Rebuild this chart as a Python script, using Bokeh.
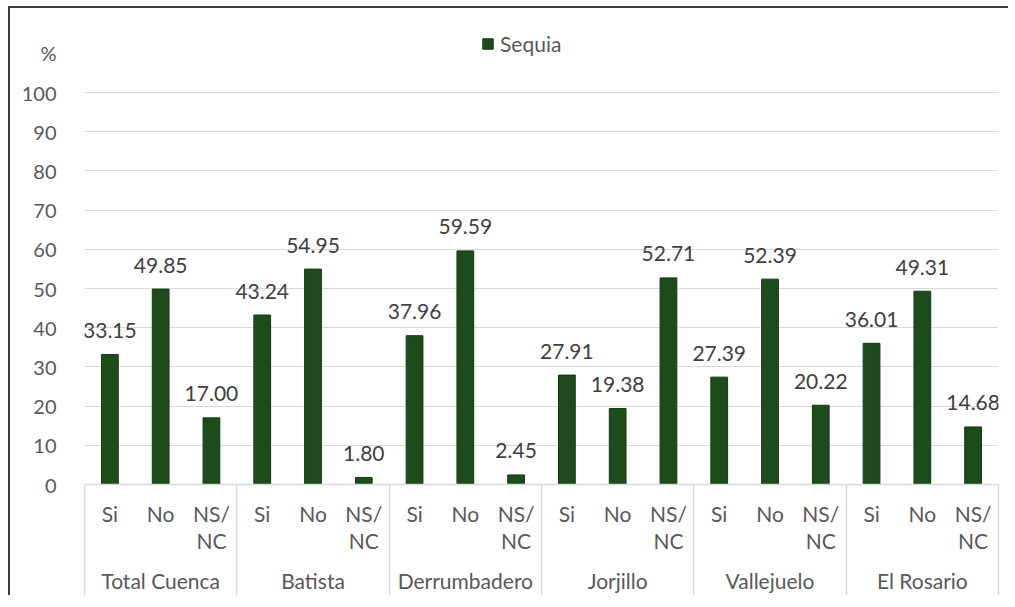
from bokeh.plotting import figure
from bokeh.models import (ColumnDataSource, LabelSet, FixedTicker, LinearAxis,
                          Legend, LegendItem, Range1d)
from bokeh.embed import file_html
from bokeh.resources import INLINE
from bokeh.core.properties import value

# ---- data ----
groups = ["Total Cuenca", "Batista", "Derrumbadero", "Jorjillo", "Vallejuelo", "El Rosario"]
answers = ["Si", "No", "NS/\nNC"]
sequia = [33.15, 49.85, 17.00,
          43.24, 54.95, 1.80,
          37.96, 59.59, 2.45,
          27.91, 19.38, 52.71,
          27.39, 52.39, 20.22,
          36.01, 49.31, 14.68]
y_ticks = [0, 10, 20, 30, 40, 50, 60, 70, 80, 90, 100]
unit_label = "%"
series_name = "Sequia"

FONT = "Lato"
TXT = "#595959"
BAR = "#1d4b1b"
GRID = "#d9d9d9"

n_ans = len(answers)
xs = [g * n_ans + a + 0.5 for g in range(len(groups)) for a in range(n_ans)]
group_centers = [g * n_ans + n_ans / 2 for g in range(len(groups))]
group_edges = [g * n_ans for g in range(len(groups) + 1)]
src = ColumnDataSource(dict(x=xs, y=sequia, lab=["%.2f" % v for v in sequia]))

Y_TOP = 116.33
UNIT_Y = 110.2

p = figure(frame_width=914, frame_height=456, output_backend="svg",
           toolbar_location=None, x_range=Range1d(0, len(groups) * n_ans),
           y_range=Range1d(0, Y_TOP), min_border_left=74, min_border_right=10,
           min_border_top=20, min_border_bottom=0)
p.outline_line_color = None
p.background_fill_color = "white"
p.border_fill_color = "white"
p.styles = {"margin-left": "8px", "margin-top": "6px",
            "border-left": "2px solid #3a3a3a", "border-top": "2px solid #3a3a3a"}

r = p.vbar(x="x", top="y", width=0.33, source=src, fill_color=BAR,
           line_color="#143a14", line_width=1)

# y axis (with unit label as top tick)
p.yaxis.ticker = FixedTicker(ticks=y_ticks + [UNIT_Y])
p.yaxis.major_label_overrides = {UNIT_Y: unit_label}
p.yaxis.axis_line_color = None
p.yaxis.major_tick_line_color = None
p.yaxis.minor_tick_line_color = None
p.yaxis.major_label_standoff = 22
p.yaxis.major_label_text_font = FONT
p.yaxis.major_label_text_font_size = "20px"
p.yaxis.major_label_text_color = TXT
p.ygrid.ticker = FixedTicker(ticks=y_ticks)
p.ygrid.grid_line_color = GRID
p.xgrid.grid_line_color = None

# x axis: answer labels, group separators drawn as long minor ticks
SEP_LEN = 117
p.xaxis.ticker = FixedTicker(ticks=xs, minor_ticks=group_edges)
p.xaxis.major_label_overrides = {x: answers[i % n_ans] for i, x in enumerate(xs)}
p.xaxis.axis_line_color = GRID
p.xaxis.axis_line_width = 1.5
p.xaxis.major_tick_line_color = None
p.xaxis.minor_tick_line_color = GRID
p.xaxis.minor_tick_line_width = 1.5
p.xaxis.major_tick_out = 0
p.xaxis.minor_tick_in = 0
p.xaxis.minor_tick_out = SEP_LEN
p.xaxis.major_label_standoff = 16 - SEP_LEN
p.xaxis.major_label_text_font = FONT
p.xaxis.major_label_text_font_size = "21px"
p.xaxis.major_label_text_color = TXT
p.xaxis.major_label_text_line_height = 1.1

# group label axis
gax = LinearAxis(ticker=FixedTicker(ticks=group_centers, minor_ticks=[]),
                 major_label_overrides={c: n for c, n in zip(group_centers, groups)},
                 axis_line_color=None, major_tick_line_color=None,
                 minor_tick_line_color=None, major_tick_out=0, minor_tick_out=0,
                 major_label_standoff=11, major_label_text_font=FONT,
                 major_label_text_font_size="21px", major_label_text_color=TXT)
p.add_layout(gax, "below")

# value labels
p.add_layout(LabelSet(x="x", y="y", text="lab", source=src, y_offset=24,
                      text_align="center", text_baseline="middle",
                      text_font=value(FONT), text_font_size="21px",
                      text_color="#404040"))

# legend
leg = Legend(items=[LegendItem(label=series_name, renderers=[r])],
             location=(397, 428), padding=0, margin=0, spacing=0,
             glyph_width=13, glyph_height=13, label_standoff=6,
             border_line_color=None, background_fill_alpha=0,
             label_text_font=FONT, label_text_font_size="21px",
             label_text_color=TXT)
p.add_layout(leg, "center")

html = file_html(p, INLINE)
html = html.replace("<body>", '<body style="margin:0;overflow:hidden">', 1)
open("out.html", "w").write(html)
